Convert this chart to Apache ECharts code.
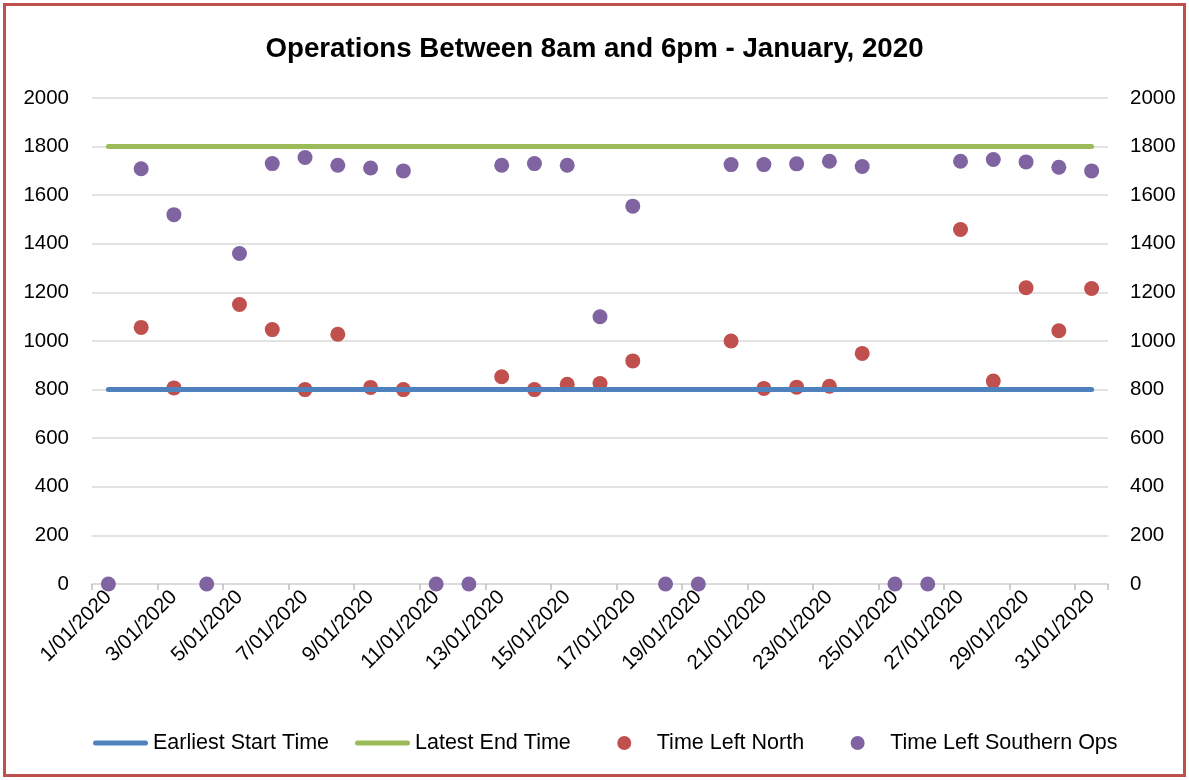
<!DOCTYPE html>
<html>
<head>
<meta charset="utf-8">
<script src="https://cdn.jsdelivr.net/npm/echarts@6/dist/echarts.min.js"></script>
<style>
  html, body { margin: 0; padding: 0; background: #fff; }
  #chart { width: 1189px; height: 780px; position: relative; }
  #frame {
    position: absolute; left: 3px; top: 3px; width: 1183px; height: 774px;
    box-sizing: border-box; border: 3px solid #C0504D; pointer-events: none;
  }
</style>
</head>
<body>
<div id="chart"></div>
<div id="frame"></div>
<script>
// days of January 2020
const dates = [
  '1/01/2020', '2/01/2020', '3/01/2020', '4/01/2020', '5/01/2020', '6/01/2020', '7/01/2020', '8/01/2020',
  '9/01/2020', '10/01/2020', '11/01/2020', '12/01/2020', '13/01/2020', '14/01/2020', '15/01/2020', '16/01/2020',
  '17/01/2020', '18/01/2020', '19/01/2020', '20/01/2020', '21/01/2020', '22/01/2020', '23/01/2020', '24/01/2020',
  '25/01/2020', '26/01/2020', '27/01/2020', '28/01/2020', '29/01/2020', '30/01/2020', '31/01/2020'
];

const earliestStart = [
  800, 800, 800, 800, 800, 800, 800, 800, 800, 800, 800, 800, 800, 800, 800, 800,
  800, 800, 800, 800, 800, 800, 800, 800, 800, 800, 800, 800, 800, 800, 800
];

const latestEnd = [
  1800, 1800, 1800, 1800, 1800, 1800, 1800, 1800, 1800, 1800, 1800, 1800, 1800, 1800, 1800, 1800,
  1800, 1800, 1800, 1800, 1800, 1800, 1800, 1800, 1800, 1800, 1800, 1800, 1800, 1800, 1800
];

const leftNorth = [
  null, 1056, 807, null, 1150, 1047, 800, 1028, 809, 800, null, null, 853, 800, 822, 825,
  918, null, null, 1000, 805, 810, 814, 949, null, null, 1459, 835, 1219, 1042, 1216
];

const leftSouthern = [
  0, 1709, 1520, 0, 1360, 1730, 1755, 1723, 1712, 1700, 0, 0, 1723, 1730, 1723, 1100,
  1555, 0, 0, 1726, 1726, 1729, 1740, 1718, 0, 0, 1740, 1747, 1737, 1715, 1700
];

const yTicks = { min: 0, max: 2000, interval: 200 };

const font = 'Liberation Sans';
const gridColor = '#D9D9D9';

const chart = echarts.init(document.getElementById('chart'));

// legend icons: a short thick line, and a dot centred in a box as wide as the line
const lineIcon = 'path://M2.5,0 L52.5,0 A2.5,2.5 0 0 1 52.5,5 L2.5,5 A2.5,2.5 0 0 1 2.5,0 Z';
const dotIcon = 'path://M0,0 M55,14 M27.5,0 A7,7 0 1 1 27.5,14 A7,7 0 1 1 27.5,0 Z';

chart.setOption({
  animation: false,
  backgroundColor: '#fff',
  textStyle: { fontFamily: font },
  title: {
    text: 'Operations Between 8am and 6pm - January, 2020',
    left: 'center',
    top: 30,
    textStyle: { fontFamily: font, fontSize: 27.7, fontWeight: 'bold', color: '#000' }
  },
  legend: {
    left: 88,
    top: 727,
    itemWidth: 55,
    itemHeight: 14,
    itemGap: 26,
    textStyle: { fontFamily: font, fontSize: 21.5, color: '#000' },
    data: [
      { name: 'Earliest Start Time', icon: lineIcon },
      { name: 'Latest End Time', icon: lineIcon },
      { name: 'Time Left North', icon: dotIcon },
      { name: 'Time Left Southern Ops', icon: dotIcon }
    ]
  },
  grid: { left: 92, right: 81, top: 98, bottom: 196 },
  xAxis: {
    type: 'category',
    data: dates,
    boundaryGap: true,
    axisLine: { lineStyle: { color: gridColor, width: 1.5 } },
    axisTick: { show: true, interval: 1, length: 6, lineStyle: { color: '#BFBFBF', width: 1.5 } },
    axisLabel: {
      interval: 1,
      rotate: 45,
      margin: 10,
      fontFamily: font,
      fontSize: 20.5,
      color: '#000'
    }
  },
  yAxis: [
    {
      type: 'value',
      min: yTicks.min, max: yTicks.max, interval: yTicks.interval,
      axisLine: { show: false },
      axisTick: { show: false },
      axisLabel: { margin: 23, fontFamily: font, fontSize: 20.5, color: '#000', formatter: v => String(v) },
      splitLine: { lineStyle: { color: gridColor, width: 1.5 } }
    },
    {
      type: 'value',
      position: 'right',
      min: yTicks.min, max: yTicks.max, interval: yTicks.interval,
      axisLine: { show: false },
      axisTick: { show: false },
      axisLabel: { margin: 22, fontFamily: font, fontSize: 20.5, color: '#000', formatter: v => String(v) },
      splitLine: { show: false }
    }
  ],
  series: [
    {
      name: 'Earliest Start Time',
      type: 'line',
      data: earliestStart,
      symbol: 'none',
      color: '#4F81BD',
      lineStyle: { color: '#4F81BD', width: 5, cap: 'round' }
    },
    {
      name: 'Latest End Time',
      type: 'line',
      data: latestEnd,
      symbol: 'none',
      color: '#9BBB59',
      lineStyle: { color: '#9BBB59', width: 5, cap: 'round' }
    },
    {
      name: 'Time Left North',
      type: 'scatter',
      data: leftNorth,
      symbol: 'circle',
      symbolSize: 15,
      itemStyle: { color: '#C0504D', opacity: 1 }
    },
    {
      name: 'Time Left Southern Ops',
      type: 'scatter',
      data: leftSouthern,
      symbol: 'circle',
      symbolSize: 15,
      itemStyle: { color: '#8064A2', opacity: 1 }
    }
  ]
});
</script>
</body>
</html>
